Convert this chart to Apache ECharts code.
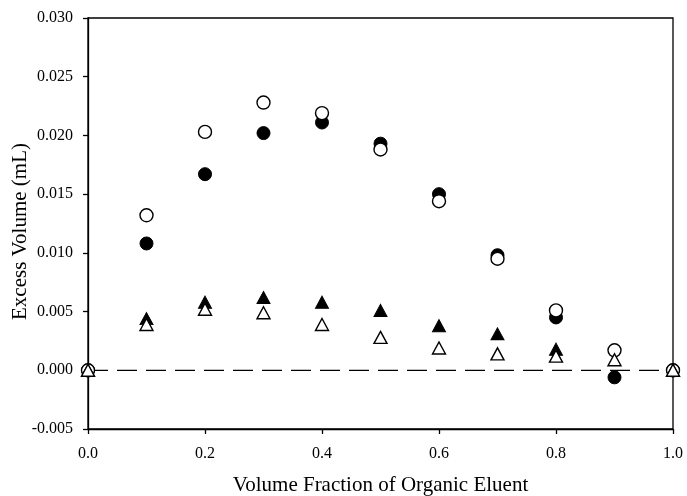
<!DOCTYPE html>
<html>
<head>
<meta charset="utf-8">
<script src="https://cdn.jsdelivr.net/npm/echarts@6/dist/echarts.min.js"></script>
<style>html,body{margin:0;padding:0;background:#fff}#c{width:687px;height:496px}</style>
</head>
<body>
<div id="c"></div>
<script>
var xVals = [0, 0.1, 0.2, 0.3, 0.4, 0.5, 0.6, 0.7, 0.8, 0.9, 1.0];
var filledCircle = [0, 0.0108, 0.0167, 0.0202, 0.0211, 0.0193, 0.0150, 0.0098, 0.0045, -0.0006, 0];
var openCircle   = [0, 0.0132, 0.0203, 0.0228, 0.0219, 0.0188, 0.0144, 0.0095, 0.0051, 0.0017, 0];
var filledTri    = [0, 0.0044, 0.0058, 0.0062, 0.0058, 0.0051, 0.0038, 0.0031, 0.0018, null, 0];
var openTri      = [0, 0.0039, 0.0052, 0.0049, 0.0039, 0.0028, 0.0019, 0.0014, 0.0012, 0.0009, 0];
var zeroLineX = [0, 1];
var xTitle = 'Volume Fraction of Organic Eluent';
var yTitle = 'Excess Volume (mL)';

function pairs(ys){ var out=[]; for (var i=0;i<xVals.length;i++){ if(ys[i]!==null) out.push([xVals[i], ys[i]]); } return out; }
var font = 'Liberation Serif';
var chart = echarts.init(document.getElementById('c'), null, {renderer:'canvas'});
chart.setOption({
  animation:false,
  backgroundColor:'#fff',
  grid:{left:88, right:14, top:18, bottom:67, containLabel:false, outerBoundsMode:'none', show:true, borderColor:'#000', borderWidth:1.3},
  xAxis:{type:'value', min:0, max:1, interval:0.2,
    name:xTitle, nameLocation:'middle', nameGap:46, nameMoveOverlap:false,
    nameTextStyle:{fontFamily:font, fontSize:21, color:'#000'},
    axisLine:{show:true, onZero:false, lineStyle:{color:'#000', width:1.3}},
    axisTick:{show:true, length:5, lineStyle:{color:'#000', width:1.3}},
    axisLabel:{fontFamily:font, fontSize:16, color:'#000', margin:17, formatter:function(v){return v.toFixed(1);}},
    splitLine:{show:false}},
  yAxis:{type:'value', min:-0.005, max:0.03, interval:0.005,
    name:yTitle, nameLocation:'middle', nameGap:57, nameRotate:90, nameMoveOverlap:false,
    nameTextStyle:{fontFamily:font, fontSize:21, color:'#000', padding:[0,16,0,0]},
    axisLine:{show:true, onZero:false, lineStyle:{color:'#000', width:1.3}},
    axisTick:{show:true, length:5, lineStyle:{color:'#000', width:1.3}},
    axisLabel:{fontFamily:font, fontSize:16, color:'#000', margin:15, formatter:function(v){return v.toFixed(3);}},
    splitLine:{show:false}},
  series:[
    {type:'line', data:zeroLineX.map(function(x){return [x,0];}), symbol:'none',
      lineStyle:{color:'#000', width:1.3, type:[20,9]}, z:1, silent:true},
    {type:'scatter', data:pairs(filledCircle), symbol:'circle', symbolSize:13,
      itemStyle:{color:'#000', opacity:1, borderColor:'#000', borderWidth:1}, z:2},
    {type:'scatter', data:pairs(openCircle), symbol:'circle', symbolSize:13,
      itemStyle:{color:'#fff', opacity:1, borderColor:'#000', borderWidth:1.4}, z:3},
    {type:'scatter', data:pairs(filledTri), symbol:'triangle', symbolSize:[13,12],
      itemStyle:{color:'#000', opacity:1, borderColor:'#000', borderWidth:1}, z:4},
    {type:'scatter', data:pairs(openTri), symbol:'triangle', symbolSize:[13,12],
      itemStyle:{color:'#fff', opacity:1, borderColor:'#000', borderWidth:1.4}, z:5}
  ]
});
</script>
</body>
</html>
